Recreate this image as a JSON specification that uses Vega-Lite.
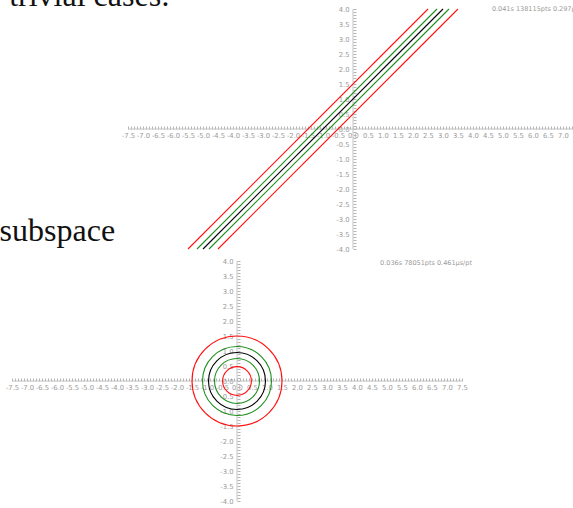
{
  "$schema": "https://vega.github.io/schema/vega-lite/v6.json",
  "width": 573,
  "height": 508,
  "autosize": {"type": "none"},
  "padding": 0,
  "background": "white",
  "config": {
    "view": {"stroke": null},
    "axis": {
      "domain": false,
      "grid": false,
      "ticks": true,
      "tickCount": 1000,
      "tickSize": -3,
      "tickColor": "#b4b4b4",
      "tickWidth": 1,
      "labelColor": "#9a9a9a",
      "labelFontSize": 6.8,
      "labelFont": "DejaVu Sans",
      "labelOverlap": false,
      "labelFlush": false,
      "labelBound": false,
      "title": null,
      "labelExpr": "abs(round(datum.value*10)) % 5 == 0 ? (datum.value < -0.01 ? '-' : '') + format(abs(datum.value), '.1f') : ''"
    },
    "axisX": {"labelPadding": 6},
    "axisY": {"labelPadding": 7}
  },
  "datasets": {
    "axesTop": [
      {"x": -7.5, "x2": 7.5, "y": 0, "y2": 0},
      {"x": 0, "x2": 0, "y": -4, "y2": 4}
    ],
    "axesBottom": [
      {"x": -7.5, "x2": 7.5, "y": 0, "y2": 0},
      {"x": 0, "x2": 0, "y": -4, "y2": 4}
    ],
    "lines": [
      {"id": "r1", "kind": "far", "x": -5.5, "y": -4},
      {"id": "r1", "kind": "far", "x": 2.5, "y": 4},
      {"id": "g1", "kind": "near", "x": -5.2, "y": -4},
      {"id": "g1", "kind": "near", "x": 2.8, "y": 4},
      {"id": "b", "kind": "level", "x": -5, "y": -4},
      {"id": "b", "kind": "level", "x": 3, "y": 4},
      {"id": "g2", "kind": "near", "x": -4.8, "y": -4},
      {"id": "g2", "kind": "near", "x": 3.2, "y": 4},
      {"id": "r2", "kind": "far", "x": -4.5, "y": -4},
      {"id": "r2", "kind": "far", "x": 3.5, "y": 4}
    ],
    "circles": [
      {"id": "r1", "kind": "far", "x": 0, "y": 0, "r": 1.5},
      {"id": "g1", "kind": "near", "x": 0, "y": 0, "r": 1.15},
      {"id": "b", "kind": "level", "x": 0, "y": 0, "r": 0.95},
      {"id": "g2", "kind": "near", "x": 0, "y": 0, "r": 0.75},
      {"id": "r2", "kind": "far", "x": 0, "y": 0, "r": 0.48}
    ],
    "docText": [
      {"label": "trivial cases:", "x": -6.1, "y": 4.1},
      {"label": "subspace", "x": -7.93, "y": -3.733}
    ],
    "statsTop": [
      {"label": "0.041s 138115pts 0.297µs/pt", "x": 4.63, "y": 4.0}
    ],
    "statsBottom": [
      {"label": "0.036s 78051pts 0.461µs/pt", "x": 4.77, "y": 3.93}
    ]
  },
  "layer": [
    {
      "layer": [
        {
          "data": {"name": "axesTop"},
          "mark": {"type": "rule", "color": "#c4c4c4", "strokeWidth": 1},
          "encoding": {
            "x": {"field": "x", "type": "quantitative",
              "scale": {"domain": [-11.7667, 7.3333], "nice": false, "zero": false},
              "axis": {"orient": "bottom", "offset": -379,
                "values": [-7.5,-7.4,-7.3,-7.2,-7.1,-7,-6.9,-6.8,-6.7,-6.6,-6.5,-6.4,-6.3,-6.2,-6.1,-6,-5.9,-5.8,-5.7,-5.6,-5.5,-5.4,-5.3,-5.2,-5.1,-5,-4.9,-4.8,-4.7,-4.6,-4.5,-4.4,-4.3,-4.2,-4.1,-4,-3.9,-3.8,-3.7,-3.6,-3.5,-3.4,-3.3,-3.2,-3.1,-3,-2.9,-2.8,-2.7,-2.6,-2.5,-2.4,-2.3,-2.2,-2.1,-2,-1.9,-1.8,-1.7,-1.6,-1.5,-1.4,-1.3,-1.2,-1.1,-1,-0.9,-0.8,-0.7,-0.6,-0.5,-0.4,-0.3,-0.2,-0.1,0,0.1,0.2,0.3,0.4,0.5,0.6,0.7,0.8,0.9,1,1.1,1.2,1.3,1.4,1.5,1.6,1.7,1.8,1.9,2,2.1,2.2,2.3,2.4,2.5,2.6,2.7,2.8,2.9,3,3.1,3.2,3.3,3.4,3.5,3.6,3.7,3.8,3.9,4,4.1,4.2,4.3,4.4,4.5,4.6,4.7,4.8,4.9,5,5.1,5.2,5.3,5.4,5.5,5.6,5.7,5.8,5.9,6,6.1,6.2,6.3,6.4,6.5,6.6,6.7,6.8,6.9,7,7.1,7.2,7.3]}},
            "x2": {"field": "x2"},
            "y": {"field": "y", "type": "quantitative",
              "scale": {"domain": [-12.6333, 4.3], "nice": false, "zero": false},
              "axis": {"orient": "left", "offset": -353,
                "values": [-4,-3.9,-3.8,-3.7,-3.6,-3.5,-3.4,-3.3,-3.2,-3.1,-3,-2.9,-2.8,-2.7,-2.6,-2.5,-2.4,-2.3,-2.2,-2.1,-2,-1.9,-1.8,-1.7,-1.6,-1.5,-1.4,-1.3,-1.2,-1.1,-1,-0.9,-0.8,-0.7,-0.6,-0.5,-0.4,-0.3,-0.2,-0.1,0,0.1,0.2,0.3,0.4,0.5,0.6,0.7,0.8,0.9,1,1.1,1.2,1.3,1.4,1.5,1.6,1.7,1.8,1.9,2,2.1,2.2,2.3,2.4,2.5,2.6,2.7,2.8,2.9,3,3.1,3.2,3.3,3.4,3.5,3.6,3.7,3.8,3.9,4]}},
            "y2": {"field": "y2"}
          }
        },
        {
          "data": {"name": "lines"},
          "mark": {"type": "line", "strokeWidth": 1.1},
          "encoding": {
            "x": {"field": "x", "type": "quantitative"},
            "y": {"field": "y", "type": "quantitative"},
            "detail": {"field": "id"},
            "color": {"field": "kind", "type": "nominal",
              "scale": {"domain": ["level", "near", "far"], "range": ["#000000", "#1f8f1f", "#ff1010"]},
              "legend": null}
          }
        },
        {
          "data": {"name": "docText"},
          "mark": {"type": "text", "font": "Liberation Serif", "fontSize": 32, "align": "right", "baseline": "alphabetic", "color": "#111111"},
          "encoding": {
            "x": {"field": "x", "type": "quantitative"},
            "y": {"field": "y", "type": "quantitative"},
            "text": {"field": "label"}
          }
        },
        {
          "data": {"name": "statsTop"},
          "mark": {"type": "text", "font": "DejaVu Sans", "fontSize": 6.5, "align": "left", "baseline": "middle", "color": "#9a9a9a"},
          "encoding": {
            "x": {"field": "x", "type": "quantitative"},
            "y": {"field": "y", "type": "quantitative"},
            "text": {"field": "label"}
          }
        }
      ]
    },
    {
      "layer": [
        {
          "data": {"name": "axesBottom"},
          "mark": {"type": "rule", "color": "#c4c4c4", "strokeWidth": 1},
          "encoding": {
            "x": {"field": "x", "type": "quantitative",
              "scale": {"domain": [-7.9, 11.2], "nice": false, "zero": false},
              "axis": {"orient": "bottom", "offset": -127,
                "values": [-7.5,-7.4,-7.3,-7.2,-7.1,-7,-6.9,-6.8,-6.7,-6.6,-6.5,-6.4,-6.3,-6.2,-6.1,-6,-5.9,-5.8,-5.7,-5.6,-5.5,-5.4,-5.3,-5.2,-5.1,-5,-4.9,-4.8,-4.7,-4.6,-4.5,-4.4,-4.3,-4.2,-4.1,-4,-3.9,-3.8,-3.7,-3.6,-3.5,-3.4,-3.3,-3.2,-3.1,-3,-2.9,-2.8,-2.7,-2.6,-2.5,-2.4,-2.3,-2.2,-2.1,-2,-1.9,-1.8,-1.7,-1.6,-1.5,-1.4,-1.3,-1.2,-1.1,-1,-0.9,-0.8,-0.7,-0.6,-0.5,-0.4,-0.3,-0.2,-0.1,0,0.1,0.2,0.3,0.4,0.5,0.6,0.7,0.8,0.9,1,1.1,1.2,1.3,1.4,1.5,1.6,1.7,1.8,1.9,2,2.1,2.2,2.3,2.4,2.5,2.6,2.7,2.8,2.9,3,3.1,3.2,3.3,3.4,3.5,3.6,3.7,3.8,3.9,4,4.1,4.2,4.3,4.4,4.5,4.6,4.7,4.8,4.9,5,5.1,5.2,5.3,5.4,5.5,5.6,5.7,5.8,5.9,6,6.1,6.2,6.3,6.4,6.5,6.6,6.7,6.8,6.9,7,7.1,7.2,7.3,7.4,7.5]}},
            "x2": {"field": "x2"},
            "y": {"field": "y", "type": "quantitative",
              "scale": {"domain": [-4.2333, 12.7], "nice": false, "zero": false},
              "axis": {"orient": "left", "offset": -237,
                "values": [-4,-3.9,-3.8,-3.7,-3.6,-3.5,-3.4,-3.3,-3.2,-3.1,-3,-2.9,-2.8,-2.7,-2.6,-2.5,-2.4,-2.3,-2.2,-2.1,-2,-1.9,-1.8,-1.7,-1.6,-1.5,-1.4,-1.3,-1.2,-1.1,-1,-0.9,-0.8,-0.7,-0.6,-0.5,-0.4,-0.3,-0.2,-0.1,0,0.1,0.2,0.3,0.4,0.5,0.6,0.7,0.8,0.9,1,1.1,1.2,1.3,1.4,1.5,1.6,1.7,1.8,1.9,2,2.1,2.2,2.3,2.4,2.5,2.6,2.7,2.8,2.9,3,3.1,3.2,3.3,3.4,3.5,3.6,3.7,3.8,3.9,4]}},
            "y2": {"field": "y2"}
          }
        },
        {
          "data": {"name": "circles"},
          "mark": {"type": "point", "shape": "circle", "filled": false, "strokeWidth": 1.1, "opacity": 1},
          "encoding": {
            "x": {"field": "x", "type": "quantitative"},
            "y": {"field": "y", "type": "quantitative"},
            "size": {"field": "r", "type": "quantitative",
              "scale": {"type": "pow", "exponent": 2, "domain": [0, 1.5], "range": [0, 8100], "zero": true},
              "legend": null},
            "color": {"field": "kind", "type": "nominal",
              "scale": {"domain": ["level", "near", "far"], "range": ["#000000", "#1f8f1f", "#ff1010"]},
              "legend": null}
          }
        },
        {
          "data": {"name": "statsBottom"},
          "mark": {"type": "text", "font": "DejaVu Sans", "fontSize": 6.5, "align": "left", "baseline": "middle", "color": "#9a9a9a"},
          "encoding": {
            "x": {"field": "x", "type": "quantitative"},
            "y": {"field": "y", "type": "quantitative"},
            "text": {"field": "label"}
          }
        }
      ]
    }
  ],
  "resolve": {
    "scale": {"x": "independent", "y": "independent"},
    "axis": {"x": "independent", "y": "independent"}
  }
}
